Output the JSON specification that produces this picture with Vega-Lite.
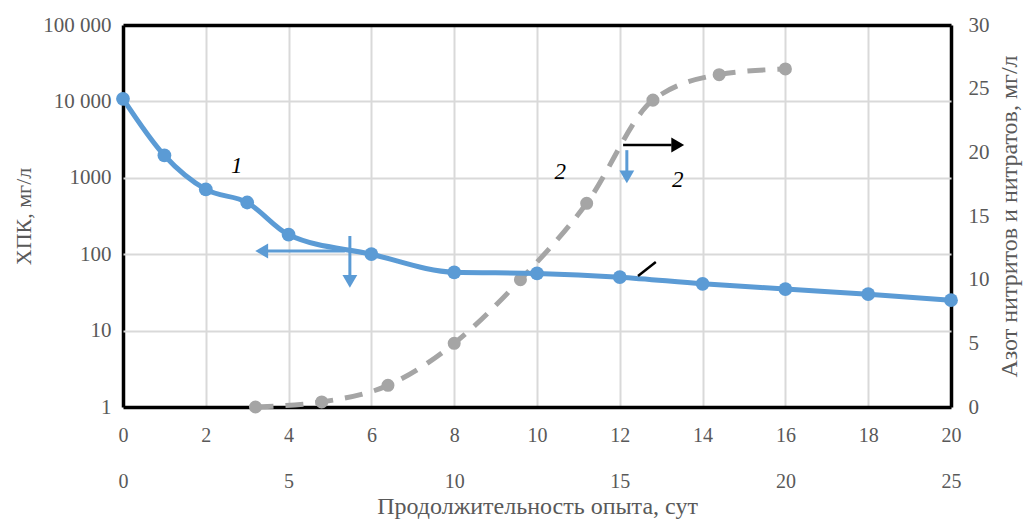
{
  "$schema": "https://vega.github.io/schema/vega-lite/v6.json",
  "width": 828,
  "height": 382,
  "autosize": {"type": "none"},
  "padding": {"left": 123, "top": 25, "right": 80, "bottom": 118},
  "background": "white",
  "config": {
    "view": {"stroke": null},
    "font": "Liberation Serif",
    "axis": {
      "labelFont": "Liberation Serif",
      "titleFont": "Liberation Serif",
      "labelColor": "#595959",
      "titleColor": "#595959",
      "labelFontSize": 20,
      "titleFontSize": 21,
      "titleFontWeight": "normal",
      "ticks": false,
      "domain": false,
      "labelFlush": false,
      "labelOverlap": false,
      "gridOpacity": 1
    }
  },
  "datasets": {
    "cod": [
      {"day": 0, "cod": 10800},
      {"day": 1, "cod": 1960},
      {"day": 2, "cod": 705},
      {"day": 3, "cod": 475},
      {"day": 4, "cod": 180},
      {"day": 6, "cod": 100},
      {"day": 8, "cod": 58},
      {"day": 10, "cod": 56},
      {"day": 12, "cod": 50},
      {"day": 14, "cod": 41},
      {"day": 16, "cod": 35},
      {"day": 18, "cod": 30},
      {"day": 20, "cod": 25}
    ],
    "nitrate": [
      {"t": 4, "n": 0},
      {"t": 6, "n": 0.4},
      {"t": 8, "n": 1.7},
      {"t": 10, "n": 5},
      {"t": 12, "n": 10},
      {"t": 14, "n": 16},
      {"t": 16, "n": 24.1},
      {"t": 18, "n": 26.1},
      {"t": 20, "n": 26.55}
    ]
  },
  "layer": [
    {
      "data": {"name": "nitrate"},
      "encoding": {
        "x": {
          "field": "t", "type": "quantitative",
          "scale": {"domain": [0, 25], "nice": false},
          "axis": {"orient": "bottom", "values": [0, 5, 10, 15, 20, 25], "grid": false, "offset": 46, "labelPadding": 18, "title": "Продолжительность опыта, сут", "titleFontSize": 24, "titlePadding": 3}
        },
        "y": {
          "field": "n", "type": "quantitative",
          "scale": {"domain": [0, 30], "nice": false},
          "axis": {"orient": "right", "values": [0, 5, 10, 15, 20, 25, 30], "grid": false, "labelPadding": 17, "labelFontSize": 21, "title": "Азот нитритов и нитратов, мг/л", "titleFontSize": 24, "titleAngle": 270, "titlePadding": 32}
        }
      },
      "layer": [
        {"mark": {"type": "line", "color": "#a5a5a5", "strokeWidth": 5, "strokeDash": [18, 12], "interpolate": "monotone"}},
        {"mark": {"type": "point", "filled": true, "color": "#a5a5a5", "size": 170, "opacity": 1}}
      ]
    },
    {
      "encoding": {
        "x": {
          "field": "day", "type": "quantitative",
          "scale": {"domain": [0, 20], "nice": false},
          "axis": {
            "orient": "bottom", "values": [0, 2, 4, 6, 8, 10, 12, 14, 16, 18, 20], "grid": true, "labelPadding": 18, "title": null,
            "gridColor": {"condition": {"test": "datum.value == 0 || datum.value == 20", "value": "black"}, "value": "#d9d9d9"},
            "gridWidth": {"condition": {"test": "datum.value == 0 || datum.value == 20", "value": 3.5}, "value": 2}
          }
        },
        "y": {
          "field": "cod", "type": "quantitative",
          "scale": {"type": "log", "domain": [1, 100000], "nice": false},
          "axis": {
            "orient": "left", "values": [1, 10, 100, 1000, 10000, 100000], "grid": true, "labelPadding": 12, "labelFontSize": 21,
            "labelExpr": "datum.value == 100000 ? '100 000' : datum.value == 10000 ? '10 000' : format(datum.value, 'd')",
            "title": "ХПК, мг/л", "titleFontSize": 22, "titlePadding": 7,
            "gridColor": {"condition": {"test": "datum.value == 1 || datum.value == 100000", "value": "black"}, "value": "#d9d9d9"},
            "gridWidth": {"condition": {"test": "datum.value == 1 || datum.value == 100000", "value": 3.5}, "value": 2}
          }
        }
      },
      "layer": [
        {"data": {"name": "cod"}, "mark": {"type": "line", "color": "#5b9bd5", "strokeWidth": 5, "interpolate": "monotone"}},
        {"data": {"name": "cod"}, "mark": {"type": "point", "filled": true, "color": "#5b9bd5", "size": 190, "opacity": 1}},
        {
          "data": {"values": [
            {"day": 5.36, "cod": 110, "day2": 3.5, "cod2": 110},
            {"day": 5.48, "cod": 173, "day2": 5.48, "cod2": 53},
            {"day": 12.17, "cod": 2300, "day2": 12.17, "cod2": 1200}
          ]},
          "mark": {"type": "rule", "color": "#5b9bd5", "strokeWidth": 3},
          "encoding": {"x2": {"field": "day2"}, "y2": {"field": "cod2"}}
        },
        {
          "data": {"values": [
            {"day": 12.08, "cod": 2690, "day2": 13.25, "cod2": 2690},
            {"day": 12.44, "cod": 52, "day2": 12.87, "cod2": 79}
          ]},
          "mark": {"type": "rule", "color": "black", "strokeWidth": 2.5},
          "encoding": {"x2": {"field": "day2"}, "y2": {"field": "cod2"}}
        },
        {
          "data": {"values": [{"day": 3.35, "cod": 110}]},
          "mark": {"type": "point", "shape": "triangle-left", "filled": true, "color": "#5b9bd5", "size": 220, "opacity": 1}
        },
        {
          "data": {"values": [{"day": 5.48, "cod": 44}, {"day": 12.17, "cod": 1030}]},
          "mark": {"type": "point", "shape": "triangle-down", "filled": true, "color": "#5b9bd5", "size": 220, "opacity": 1}
        },
        {
          "data": {"values": [{"day": 13.4, "cod": 2690}]},
          "mark": {"type": "point", "shape": "triangle-right", "filled": true, "color": "black", "size": 220, "opacity": 1}
        },
        {
          "data": {"values": [
            {"day": 2.75, "cod": 1420, "label": "1"},
            {"day": 10.56, "cod": 1200, "label": "2"},
            {"day": 13.4, "cod": 940, "label": "2"}
          ]},
          "mark": {"type": "text", "font": "Liberation Serif", "fontStyle": "italic", "fontSize": 23, "color": "black"},
          "encoding": {"text": {"field": "label"}}
        }
      ]
    }
  ],
  "resolve": {
    "scale": {"x": "independent", "y": "independent"},
    "axis": {"x": "independent", "y": "independent"}
  }
}
